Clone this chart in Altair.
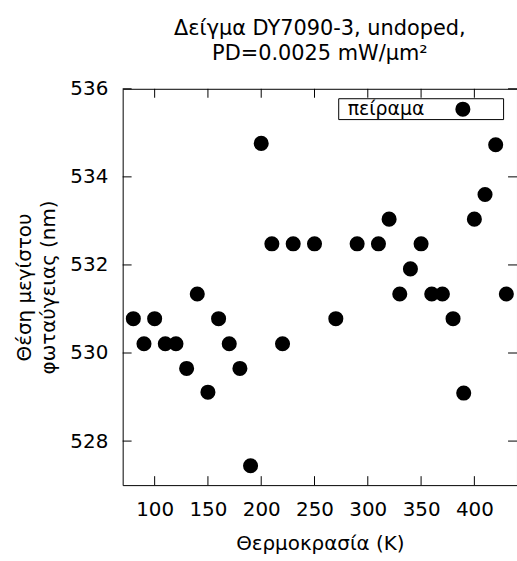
import altair as alt
import pandas as pd

# Data
temperature = [80, 90, 100, 110, 120, 130, 140, 150, 160, 170, 180, 190, 200, 210,
               220, 230, 250, 270, 290, 310, 320, 330, 340, 350, 360, 370, 380, 390,
               400, 410, 420, 430]
peak_nm = [530.78, 530.21, 530.78, 530.21, 530.21, 529.65, 531.34, 529.11, 530.78,
           530.21, 529.65, 527.44, 534.76, 532.48, 530.21, 532.48, 532.48, 530.78,
           532.48, 532.48, 533.04, 531.34, 531.91, 532.48, 531.34, 531.34, 530.78,
           529.09, 533.04, 533.60, 534.73, 531.34]
x_ticks = [100, 150, 200, 250, 300, 350, 400]
y_ticks = [528, 530, 532, 534, 536]
legend_label = "πείραμα"

W, H = 397, 399
FONT = "DejaVu Sans"

df = pd.DataFrame({"T": temperature, "P": peak_nm})
xt = pd.DataFrame({"T": x_ticks})
yt = pd.DataFrame({"P": y_ticks})

xscale = alt.Scale(domain=[70, 440], nice=False, zero=False)
yscale = alt.Scale(domain=[527, 536], nice=False, zero=False)
axis_style = dict(ticks=False, domain=False, grid=False,
                  labelFont=FONT, labelFontSize=20, labelColor="black",
                  titleFont=FONT, titleFontSize=20, titleFontWeight="normal",
                  titleColor="black")
xaxis = alt.Axis(title="Θερμοκρασία (K)", values=x_ticks, labelPadding=15,
                 titlePadding=14, **axis_style)
yaxis = alt.Axis(title=["Θέση μεγίστου", "φωταύγειας (nm)"], values=y_ticks,
                 labelPadding=15, titlePadding=11, titleLineHeight=25, **axis_style)

points = alt.Chart(df).mark_circle(color="black", opacity=1, size=230).encode(
    x=alt.X("T:Q", scale=xscale, axis=xaxis),
    y=alt.Y("P:Q", scale=yscale, axis=yaxis),
)

tick_bottom = alt.Chart(xt).mark_rule(color="black", strokeWidth=1).encode(
    x=alt.X("T:Q", scale=xscale, axis=xaxis), y=alt.value(H), y2=alt.value(H - 9))
tick_top = alt.Chart(xt).mark_rule(color="black", strokeWidth=1).encode(
    x=alt.X("T:Q", scale=xscale, axis=xaxis), y=alt.value(0), y2=alt.value(9))
tick_left = alt.Chart(yt).mark_rule(color="black", strokeWidth=1).encode(
    y=alt.Y("P:Q", scale=yscale, axis=yaxis), x=alt.value(0), x2=alt.value(9))
tick_right = alt.Chart(yt).mark_rule(color="black", strokeWidth=1).encode(
    y=alt.Y("P:Q", scale=yscale, axis=yaxis), x=alt.value(W), x2=alt.value(W - 9))

leg_df = pd.DataFrame({"label": [legend_label]})
leg_box = alt.Chart(leg_df).mark_rect(fill="white", stroke="black", strokeWidth=1).encode(
    x=alt.value(217.5), x2=alt.value(383.5), y=alt.value(10), y2=alt.value(31))
leg_text = alt.Chart(leg_df).mark_text(align="left", baseline="middle", font=FONT,
                                       fontSize=19, color="black").encode(
    text="label:N", x=alt.value(226.5), y=alt.value(20.5))
leg_pt = alt.Chart(leg_df).mark_circle(color="black", opacity=1, size=230).encode(
    x=alt.value(342.5), y=alt.value(20.5))

chart = alt.layer(points, tick_bottom, tick_top, tick_left, tick_right,
                  leg_box, leg_text, leg_pt).properties(
    width=W, height=H, background="white",
    title=alt.TitleParams(["Δείγμα DY7090-3, undoped,", "PD=0.0025 mW/μm²"],
                          anchor="middle", frame="group", font=FONT, fontSize=21,
                          fontWeight="normal", color="black", lineHeight=25, offset=15),
    autosize=alt.AutoSizeParams(type="none"),
    padding={"left": 123.5, "top": 87.5, "right": 0, "bottom": 75},
).configure_view(stroke="black", strokeWidth=1)

chart.save("out.html", embed_options={"renderer": "svg", "actions": False})
